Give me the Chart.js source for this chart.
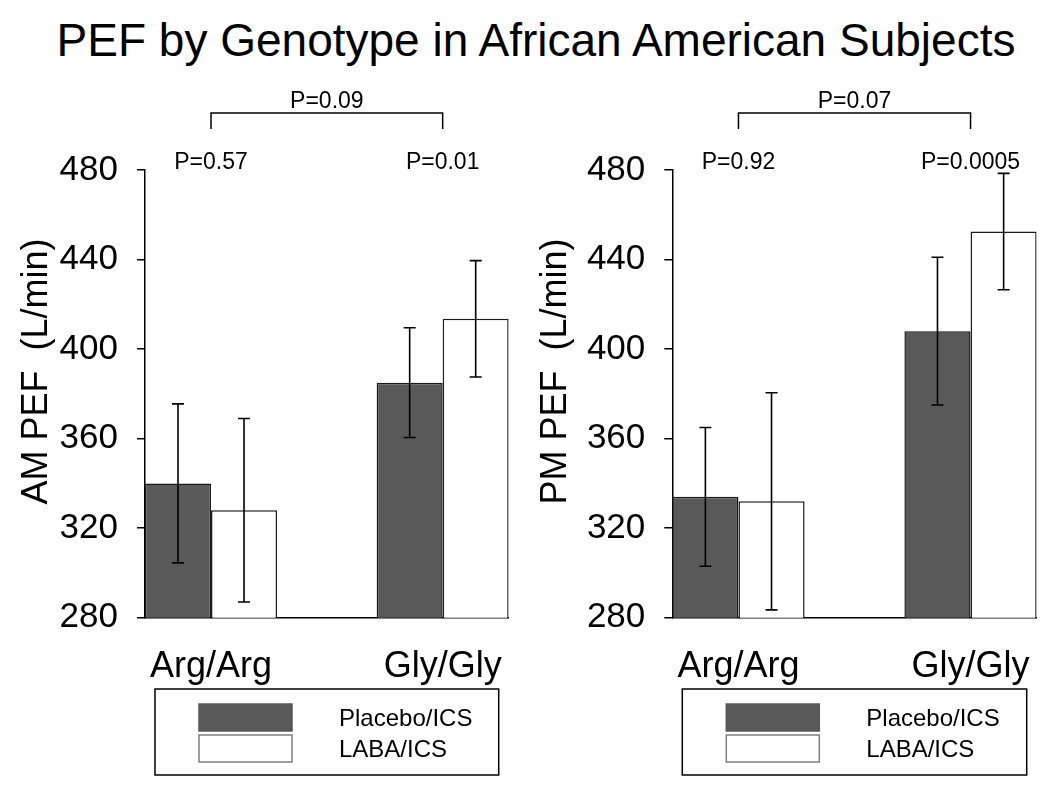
<!DOCTYPE html>
<html>
<head>
<meta charset="utf-8">
<script src="https://cdn.jsdelivr.net/npm/chart.js@4.4.1/dist/chart.umd.min.js"></script>
<style>
body { margin: 0; background: #fff; }
#wrap { position: relative; width: 1050px; height: 790px; font-family: "Liberation Sans", Arial, sans-serif; }
#title { position: absolute; left: 0; top: 13px; width: 1072px; text-align: center; font-size: 46px; color: #000; line-height: 1.2; }
.panel { position: absolute; top: 0; width: 525px; height: 790px; }
</style>
</head>
<body>
<div id="wrap">
  <div id="title">PEF by Genotype in African American Subjects</div>
  <div class="panel" style="left:0"><canvas id="amChart" width="525" height="790"></canvas></div>
  <div class="panel" style="left:525px"><canvas id="pmChart" width="525" height="790"></canvas></div>
</div>
<script>
// categories
const genotypes = ['Arg/Arg', 'Gly/Gly'];
const groupPos = [1, 2];
const treatments = ['Placebo/ICS', 'LABA/ICS'];
const yTicks = [280, 320, 360, 400, 440, 480];

// AM PEF (L/min), mean and error bar half-width
const amPlacebo = [340, 385];
const amLaba = [328, 413.5];
const amPlaceboErr = [35.5, 24.5];
const amLabaErr = [41, 26];
const amPWithin = ['P=0.57', 'P=0.01'];
const amPBetween = 'P=0.09';

// PM PEF (L/min)
const pmPlacebo = [334, 408];
const pmLaba = [332, 452.5];
const pmPlaceboErr = [31, 33];
const pmLabaErr = [48.5, 26];
const pmPWithin = ['P=0.92', 'P=0.0005'];
const pmPBetween = 'P=0.07';

Chart.defaults.font.family = '"Liberation Sans", Arial, sans-serif';
Chart.defaults.color = '#000';

const FONT = '"Liberation Sans", Arial, sans-serif';

// error bars, p-values, bracket, rotated axis title and boxed legend
const extrasPlugin = {
  id: 'pefExtras',
  afterDatasetsDraw(chart, args, opts) {
    const ctx = chart.ctx;
    const ys = chart.scales.y;

    ctx.save();
    ctx.strokeStyle = '#000';
    ctx.lineWidth = 1.6;
    chart.data.datasets.forEach((ds, i) => {
      const meta = chart.getDatasetMeta(i);
      meta.data.forEach((bar, j) => {
        const v = ds.data[j].y;
        const e = opts.errors[i][j];
        const yTop = ys.getPixelForValue(v + e);
        const yBot = ys.getPixelForValue(v - e);
        ctx.beginPath();
        ctx.moveTo(bar.x, yTop);
        ctx.lineTo(bar.x, yBot);
        ctx.moveTo(bar.x - 6, yTop);
        ctx.lineTo(bar.x + 6, yTop);
        ctx.moveTo(bar.x - 6, yBot);
        ctx.lineTo(bar.x + 6, yBot);
        ctx.stroke();
      });
    });
    ctx.restore();
  },
  afterDraw(chart, args, opts) {
    const ctx = chart.ctx;
    const xs = chart.scales.x;
    const area = chart.chartArea;
    ctx.save();
    ctx.fillStyle = '#000';
    ctx.strokeStyle = '#000';

    // p-values above each genotype
    ctx.font = '23px ' + FONT;
    ctx.textAlign = 'center';
    ctx.textBaseline = 'alphabetic';
    groupPos.forEach((g, j) => {
      ctx.fillText(opts.pWithin[j], xs.getPixelForValue(g), area.top - 1);
    });

    // bracket between genotypes
    const x1 = xs.getPixelForValue(groupPos[0]);
    const x2 = xs.getPixelForValue(groupPos[1]);
    const yb = area.top - 57;
    ctx.lineWidth = 1.5;
    ctx.beginPath();
    ctx.moveTo(x1, area.top - 41);
    ctx.lineTo(x1, yb);
    ctx.lineTo(x2, yb);
    ctx.lineTo(x2, area.top - 41);
    ctx.stroke();
    ctx.fillText(opts.pBetween, (x1 + x2) / 2, yb - 5);

    // y axis title
    ctx.save();
    ctx.translate(opts.titleX, opts.titleY);
    ctx.rotate(-Math.PI / 2);
    ctx.font = '36px ' + FONT;
    ctx.textAlign = 'center';
    ctx.fillText(opts.yTitle, 0, 0);
    ctx.restore();

    // legend box
    const bx = area.left + 10;
    const bw = area.right - 10 - bx;
    const by = 689;
    const bh = 86;
    ctx.lineWidth = 1.5;
    ctx.strokeRect(bx, by, bw, bh);
    ctx.font = '24px ' + FONT;
    ctx.textAlign = 'left';
    chart.data.datasets.forEach((ds, i) => {
      const sy = by + 15 + i * 31;
      ctx.fillStyle = ds.backgroundColor;
      ctx.fillRect(bx + 44, sy, 93, 27);
      ctx.strokeStyle = ds.legendBorder;
      ctx.lineWidth = 1.5;
      ctx.strokeRect(bx + 44, sy, 93, 27);
      ctx.fillStyle = '#000';
      ctx.fillText(ds.label, bx + 184, sy + 22);
    });
    ctx.restore();
  }
};

function makeChart(id, placebo, laba, placeboErr, labaErr, pWithin, pBetween, yTitle, yWidth, padRight, titleX) {
  return new Chart(document.getElementById(id), {
    type: 'bar',
    data: {
      datasets: [
        {
          label: treatments[0],
          data: groupPos.map((g, j) => ({ x: g, y: placebo[j] })),
          backgroundColor: '#595959',
          borderColor: '#1a1a1a',
          legendBorder: '#595959',
          borderWidth: 1.5,
          borderSkipped: false
        },
        {
          label: treatments[1],
          data: groupPos.map((g, j) => ({ x: g, y: laba[j] })),
          backgroundColor: '#ffffff',
          borderColor: '#1a1a1a',
          legendBorder: '#7f7f7f',
          borderWidth: 1.5,
          borderSkipped: false
        }
      ]
    },
    options: {
      responsive: false,
      animation: false,
      categoryPercentage: 0.57,
      barPercentage: 1.0,
      layout: { padding: { left: 0, top: 170, right: padRight, bottom: 97.3 } },
      plugins: {
        legend: { display: false },
        tooltip: { enabled: false },
        pefExtras: {
          errors: [placeboErr, labaErr],
          pWithin: pWithin,
          pBetween: pBetween,
          yTitle: yTitle,
          titleX: titleX,
          titleY: 371.5
        }
      },
      scales: {
        x: {
          type: 'linear',
          offset: false,
          min: 0.715,
          max: 2.285,
          afterBuildTicks: s => { s.ticks = groupPos.map(v => ({ value: v })); },
          afterFit: s => { s.height = 75; s.paddingLeft = 0; s.paddingRight = 0; },
          ticks: {
            font: { size: 36 },
            padding: 28,
            callback: v => genotypes[groupPos.indexOf(v)]
          },
          grid: { display: false, drawTicks: false, offset: false },
          border: { display: true, color: '#000', width: 1.5 }
        },
        y: {
          min: 280,
          max: 480,
          afterBuildTicks: s => { s.ticks = yTicks.map(v => ({ value: v })); },
          afterFit: s => { s.width = yWidth; s.paddingTop = 0; s.paddingBottom = 0; },
          ticks: { font: { size: 35 }, padding: 19 },
          grid: { drawOnChartArea: false, drawTicks: true, tickLength: 8, color: '#000', lineWidth: 1.5 },
          border: { display: true, color: '#000', width: 1.5 }
        }
      }
    },
    plugins: [extrasPlugin]
  });
}

makeChart('amChart', amPlacebo, amLaba, amPlaceboErr, amLabaErr, amPWithin, amPBetween,
  'AM PEF  (L/min)', 145, 16.3, 47);
makeChart('pmChart', pmPlacebo, pmLaba, pmPlaceboErr, pmLabaErr, pmPWithin, pmPBetween,
  'PM PEF  (L/min)', 147.3, 13.3, 41);
</script>
</body>
</html>
